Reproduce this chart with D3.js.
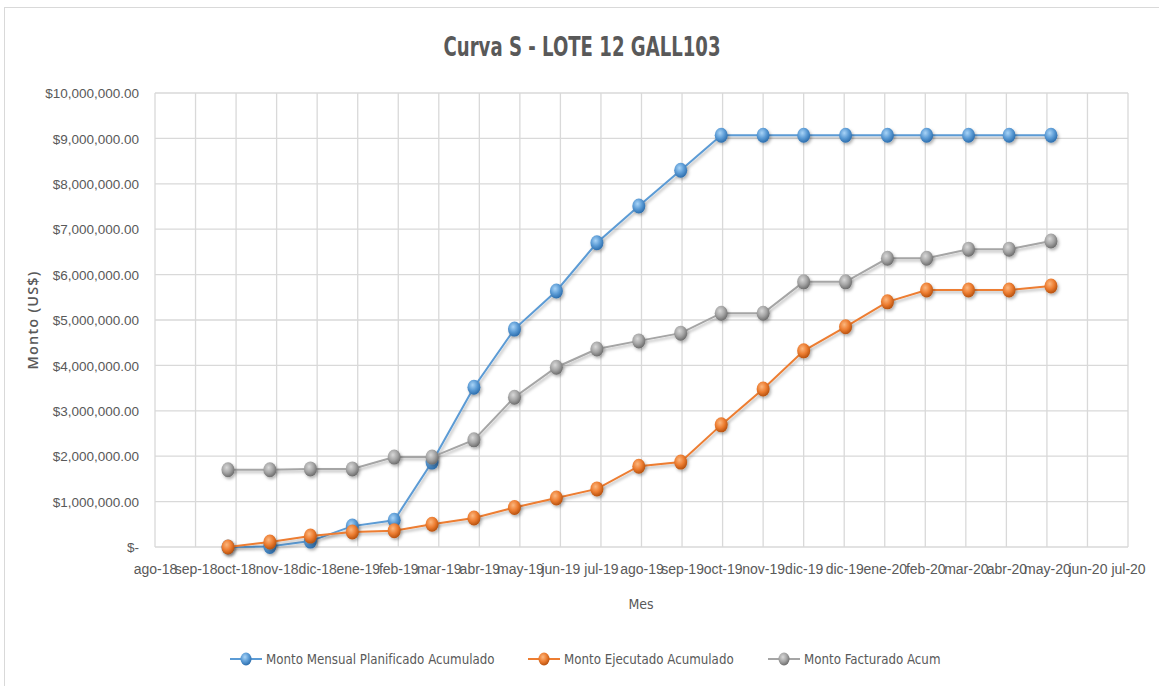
<!DOCTYPE html>
<html lang="es">
<head>
<meta charset="UTF-8">
<title>Curva S - LOTE 12 GALL103</title>
<script src="https://d3js.org/d3.v7.min.js"></script>
<style>
  body { margin: 0; background: #fff; }
  svg { display: block; font-family: "Liberation Sans Narrow", "DejaVu Sans Condensed", "Open Sans", sans-serif; }
</style>
</head>
<body>
<svg width="1159" height="686"></svg>
<script>
// meses (primer día de cada mes)
const meses = ["2018-10","2018-11","2018-12","2019-01","2019-02","2019-03","2019-04","2019-05","2019-06","2019-07",
  "2019-08","2019-09","2019-10","2019-11","2019-12","2020-01","2020-02","2020-03","2020-04","2020-05","2020-06"];

const planificado = [0, 0.01, 0.13, 0.46, 0.59, 1.87, 3.52, 4.80, 5.64, 6.70,
  7.51, 8.30, 9.07, 9.07, 9.07, 9.07, 9.07, 9.07, 9.07, 9.07, 9.07].map(v => v * 1e6);
const ejecutado = [0, 0.11, 0.24, 0.33, 0.36, 0.50, 0.64, 0.87, 1.08, 1.28,
  1.78, 1.87, 2.69, 3.48, 4.32, 4.85, 5.40, 5.66, 5.66, 5.66, 5.75].map(v => v * 1e6);
const facturado = [1.70, 1.70, 1.72, 1.72, 1.98, 1.98, 2.36, 3.30, 3.96, 4.36,
  4.54, 4.71, 5.15, 5.15, 5.84, 5.84, 6.36, 6.36, 6.56, 6.56, 6.74].map(v => v * 1e6);

// eje de fechas: unidad mayor de 30 días desde el 8-ago-2018
const ejeInicio = new Date(2018, 7, 8);
const etiquetasX = ["ago-18","sep-18","oct-18","nov-18","dic-18","ene-19","feb-19","mar-19","abr-19","may-19",
  "jun-19","jul-19","ago-19","sep-19","oct-19","nov-19","dic-19","dic-19","ene-20","feb-20","mar-20","abr-20",
  "may-20","jun-20","jul-20"];
const ticksY = [0, 1e6, 2e6, 3e6, 4e6, 5e6, 6e6, 7e6, 8e6, 9e6, 10e6];

const series = [
  { name: "Monto Mensual Planificado Acumulado", values: planificado, color: "#5B9BD5", light: "#A9D4F7", dark: "#2E6FAE" },
  { name: "Monto Ejecutado Acumulado", values: ejecutado, color: "#ED7D31", light: "#FBB77F", dark: "#B8520F" },
  { name: "Monto Facturado Acum", values: facturado, color: "#A5A5A5", light: "#D8D8D8", dark: "#6E6E6E" }
];

const svg = d3.select("svg");
const parse = d3.timeParse("%Y-%m");
const fechas = meses.map(parse);
const tickFechas = etiquetasX.map((d, i) => d3.timeDay.offset(ejeInicio, 30 * i));

const plotL = 155, plotR = 1128, plotT = 93, plotB = 547;

const x = d3.scaleTime()
  .domain([tickFechas[0], tickFechas[tickFechas.length - 1]])
  .range([plotL, plotR]);
const y = d3.scaleLinear().domain([0, 10e6]).range([plotB, plotT]);

// marco exterior
svg.append("rect")
  .attr("x", 4.5).attr("y", 7.5).attr("width", 1170).attr("height", 700)
  .attr("fill", "none").attr("stroke", "#D9D9D9");

// gradientes para marcadores
const defs = svg.append("defs");
series.forEach((s, i) => {
  const g = defs.append("radialGradient").attr("id", "grad" + i)
    .attr("cx", "40%").attr("cy", "35%").attr("r", "65%");
  g.append("stop").attr("offset", "0%").attr("stop-color", s.light);
  g.append("stop").attr("offset", "55%").attr("stop-color", s.color);
  g.append("stop").attr("offset", "100%").attr("stop-color", s.dark);
});
const sombra = defs.append("filter").attr("id", "sombra").attr("x", "-50%").attr("y", "-50%").attr("width", "200%").attr("height", "200%");
sombra.append("feDropShadow").attr("dx", 1.5).attr("dy", 2).attr("stdDeviation", 1.5).attr("flood-color", "#000").attr("flood-opacity", 0.3);

// cuadrícula
const grid = svg.append("g");
grid.selectAll("line.h").data(ticksY).join("line")
  .attr("x1", plotL).attr("x2", plotR)
  .attr("y1", d => y(d)).attr("y2", d => y(d))
  .attr("stroke", "#D9D9D9").attr("stroke-width", 1.3);
grid.selectAll("line.v").data(tickFechas).join("line")
  .attr("x1", d => x(d)).attr("x2", d => x(d))
  .attr("y1", plotT).attr("y2", plotB)
  .attr("stroke", "#D9D9D9").attr("stroke-width", 1.3);

// eje Y
const fmt = d => d === 0 ? "$-" : "$" + d3.format(",.2f")(d);
const yAxis = svg.append("g")
  .attr("transform", `translate(${plotL - 16},0)`)
  .call(d3.axisLeft(y).tickValues(ticksY).tickFormat(fmt).tickSize(0));
yAxis.select(".domain").remove();
yAxis.selectAll("text").attr("font-size", 13.5).attr("fill", "#595959").attr("dy", "0.35em").attr("x", 0);

// eje X
const xAxis = svg.append("g")
  .attr("transform", `translate(0,${plotB + 22})`)
  .call(d3.axisBottom(x).tickValues(tickFechas).tickFormat((d, i) => etiquetasX[i]).tickSize(0));
xAxis.select(".domain").remove();
xAxis.selectAll("text").attr("font-size", 14).attr("fill", "#595959").attr("dy", "0.35em").attr("y", 0);

// títulos
svg.append("text").attr("x", 582).attr("y", 56).attr("text-anchor", "middle")
  .attr("font-size", 26).attr("font-weight", "bold").attr("fill", "#595959")
  .attr("textLength", 277).attr("lengthAdjust", "spacingAndGlyphs")
  .text("Curva S - LOTE 12 GALL103");
svg.append("text").attr("x", 641).attr("y", 609).attr("text-anchor", "middle")
  .attr("font-size", 14).attr("fill", "#595959").text("Mes");
svg.append("text").attr("transform", `translate(38,${(plotT + plotB) / 2}) rotate(-90)`)
  .attr("text-anchor", "middle").attr("font-size", 14.5).attr("font-weight", 600)
  .attr("letter-spacing", 1.2)
  .attr("font-family", "'Open Sans', sans-serif").attr("fill", "#595959").text("Monto (US$)");

// series
const line = d3.line().x((d, i) => x(fechas[i])).y(d => y(d));
series.forEach((s, i) => {
  const g = svg.append("g");
  g.append("path").datum(s.values)
    .attr("d", line).attr("fill", "none").attr("stroke", s.color).attr("stroke-width", 2)
    .attr("filter", "url(#sombra)");
  g.selectAll("ellipse").data(s.values).join("ellipse")
    .attr("cx", (d, j) => x(fechas[j])).attr("cy", d => y(d))
    .attr("rx", 6.5).attr("ry", 7.5)
    .attr("fill", `url(#grad${i})`).attr("filter", "url(#sombra)");
});

// leyenda
const legX = [230, 528, 768];
const leg = svg.append("g");
series.forEach((s, i) => {
  const g = leg.append("g").attr("transform", `translate(${legX[i]},659)`);
  g.append("line").attr("x1", 0).attr("x2", 32).attr("stroke", s.color).attr("stroke-width", 2);
  g.append("ellipse").attr("cx", 16).attr("cy", 0).attr("rx", 5.5).attr("ry", 6.5)
    .attr("fill", `url(#grad${i})`);
  g.append("text").attr("x", 36).attr("dy", "0.35em").attr("font-size", 13.2).attr("fill", "#595959").text(s.name);
});
</script>
</body>
</html>
